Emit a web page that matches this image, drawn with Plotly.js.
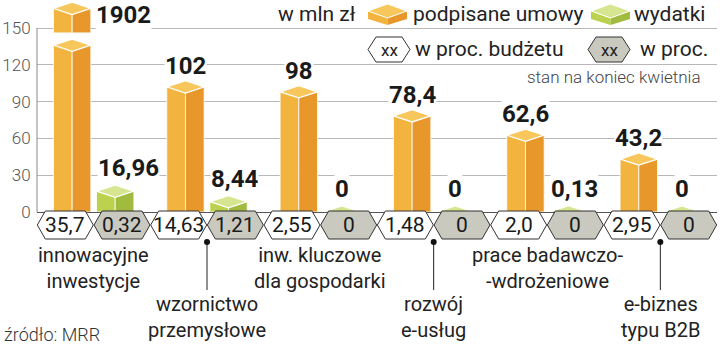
<!DOCTYPE html>
<html><head><meta charset="utf-8">
<script src="https://cdn.plot.ly/plotly-3.0.1.min.js"></script>
<style>html,body{margin:0;padding:0;background:#fff;}#chart{width:720px;height:363px;}</style>
</head><body><div id="chart"></div>
<script>
// ---- data ----
const groups = ['innowacyjne\ninwestycje', 'wzornictwo\nprzemysłowe', 'inw. kluczowe\ndla gospodarki', 'rozwój\ne-usług', 'prace badawczo-\n-wdrożeniowe', 'e-biznes\ntypu B2B'];
const contracts = [1902, 102, 98, 78.4, 62.6, 43.2];        // podpisane umowy, mln zł
const spending = [16.96, 8.44, 0, 0, 0.13, 0];             // wydatki, mln zł
const contractsPct = [35.7, 14.63, 2.55, 1.48, 2.0, 2.95]; // w proc. budżetu
const spendingPct = [0.32, 1.21, 0, 0, 0, 0];              // w proc.
const yTicks = [0, 30, 60, 90, 120, 150];

// ---- layout constants ----
const L = 37, R = 3, T = 0, B = 151, W = 720, H = 363;
const plotW = W - L - R, plotH = H - T - B;
const pxPerUnit = 184 / 150;
const yTop = plotH / pxPerUnit;
const breakAt = 136, capBase = 146, capTop = 166;   // broken bar display
const off = 0.19, half = 0.165, depth = 5;
const C = {
  oL: '#F3B43F', oR: '#E8982B', oT: '#F7C75C',
  gL: '#BCD24F', gR: '#A0BB3D', gT: '#D6E690',
  hexGray: '#C9C9BF', text: '#1a1a1a', grid: '#b8b8b8'
};
const FONT = 'Roboto, "Open Sans", sans-serif';
const px2x = p => (p - L) / plotW;
const py2y = p => (H - B - p) / plotH;
const fmtVal = v => String(v).replace('.', ',');
const fmtPct = v => v === 0 ? '0' : (Number.isInteger(v) ? v.toFixed(1) : String(v)).replace('.', ',');

const idx = groups.map((_, k) => k);
const oX = idx.map(k => k - off), gX = idx.map(k => k + off);
const oDisp = contracts.map(v => Math.min(v, breakAt));
const broken = contracts.map(v => v > capBase);

const traces = [];
function halfBars(xs, ys, bases, cL, cR) {
  traces.push({type: 'bar', x: xs.map(x => x - half / 2), y: ys, base: bases, width: half,
    marker: {color: cL, line: {color: '#fff', width: 0.8}}, hoverinfo: 'skip'});
  traces.push({type: 'bar', x: xs.map(x => x + half / 2), y: ys, base: bases, width: half,
    marker: {color: cR, line: {color: '#fff', width: 0.8}}, hoverinfo: 'skip'});
}
halfBars(oX, oDisp, oDisp.map(() => 0), C.oL, C.oR);
halfBars(gX, spending, spending.map(() => 0), C.gL, C.gR);
// upper block of broken bars
const capX = oX.filter((_, k) => broken[k]);
halfBars(capX, capX.map(() => capTop - capBase), capX.map(() => capBase), C.oL, C.oR);

function tops(xs, vs, color) {
  xs.forEach((x, i) => {
    const v = vs[i];
    traces.push({type: 'scatter', mode: 'lines', fill: 'toself', fillcolor: color,
      x: [x - half, x, x + half, x, x - half], y: [v, v + depth, v, v - depth, v],
      line: {color: '#fff', width: 1.3}, hoverinfo: 'skip'});
  });
}
tops(oX, oDisp, C.oT);
tops(gX, spending, C.gT);
tops(capX, capX.map(() => capTop), C.oT);

const shapes = [], annotations = [];
// left axis line
shapes.push({type: 'line', xref: 'paper', yref: 'y', x0: 0, x1: 0, y0: 0, y1: 150, line: {color: '#8a8a8a', width: 1}});

// hexagon row
const hw = 0.247, ins = 8 / (plotW / 6);
const hyT = py2y(211), hyB = py2y(239), hyM = (hyT + hyB) / 2;
function hexPath(cx) {
  return `M ${cx - hw},${hyM} L ${cx - hw + ins},${hyT} L ${cx + hw - ins},${hyT} L ${cx + hw},${hyM} L ${cx + hw - ins},${hyB} L ${cx - hw + ins},${hyB} Z`;
}
const hexFont = {family: FONT, size: 21, color: C.text};
idx.forEach(k => {
  shapes.push({type: 'path', xref: 'x', yref: 'paper', path: hexPath(k - 0.25), fillcolor: '#fff', line: {color: '#333', width: 1}});
  shapes.push({type: 'path', xref: 'x', yref: 'paper', path: hexPath(k + 0.25), fillcolor: C.hexGray, line: {color: '#333', width: 1}});
  annotations.push({x: k - 0.25, y: hyM, xref: 'x', yref: 'paper', text: fmtPct(contractsPct[k]), showarrow: false,
    font: hexFont, xanchor: 'center', yanchor: 'middle'});
  annotations.push({x: k + 0.25, y: hyM, xref: 'x', yref: 'paper', text: fmtPct(spendingPct[k]), showarrow: false,
    font: hexFont, xanchor: 'center', yanchor: 'middle'});
});

// category labels
idx.forEach(k => {
  const low = k % 2 === 1;
  const yc = low ? 317 : 268;
  annotations.push({x: k, y: py2y(yc), xref: 'x', yref: 'paper', text: groups[k].replace('\n', '<br>'), showarrow: false,
    font: {family: FONT, size: 20, color: '#222'}, xanchor: 'center', yanchor: 'middle', align: 'center'});
  if (low) {
    shapes.push({type: 'line', xref: 'x', yref: 'paper', x0: k, x1: k, y0: py2y(242), y1: py2y(290), line: {color: '#222', width: 1}});
    shapes.push({type: 'circle', xref: 'x', yref: 'paper', xsizemode: 'pixel', ysizemode: 'pixel', xanchor: k, yanchor: py2y(242),
      x0: -3, x1: 3, y0: -3, y1: 3, fillcolor: '#111', line: {width: 0}});
  }
});

// value labels
const vFont = {family: FONT, size: 24, color: C.text, weight: 700};
idx.forEach(k => {
  if (broken[k]) {
    annotations.push({x: oX[k] + half, y: capTop - 5.5, xref: 'x', yref: 'y', text: fmtVal(contracts[k]), showarrow: false,
      font: vFont, xanchor: 'left', yanchor: 'middle', xshift: 4, bgcolor: '#fff', borderpad: 0});
  } else {
    annotations.push({x: oX[k], y: oDisp[k], xref: 'x', yref: 'y', text: fmtVal(contracts[k]), showarrow: false,
      font: vFont, xanchor: 'center', yanchor: 'middle', yshift: 21, bgcolor: '#fff', borderpad: 0});
  }
  const g = spending[k];
  annotations.push({x: g > 0 ? gX[k] - half : gX[k], y: g, xref: 'x', yref: 'y', text: fmtVal(g), showarrow: false,
    font: vFont, xanchor: g > 0 ? 'left' : 'center', yanchor: 'middle', yshift: 23, bgcolor: '#fff', borderpad: 0});
});

// legend block
const lf = {family: FONT, size: 21, color: '#222'};
function pann(xp, yp, text, anchor, font) {
  annotations.push({x: px2x(xp), y: py2y(yp), xref: 'paper', yref: 'paper', text, showarrow: false,
    xanchor: anchor, yanchor: 'middle', font, bgcolor: '#fff', borderpad: 0});
}
pann(357, 14, 'w mln zł', 'right', lf);
pann(412, 14, 'podpisane umowy', 'left', lf);
pann(633, 14, 'wydatki', 'left', lf);
pann(414, 49, 'w proc. budżetu', 'left', lf);
pann(639, 49, 'w proc.', 'left', lf);
pann(702, 77, 'stan na koniec kwietnia', 'right', {family: FONT, size: 17, color: '#444', weight: 300});

function cube(x0, cT, cL, cR) {
  const P = pts => 'M ' + pts.map(p => px2x(p[0]) + ',' + py2y(p[1])).join(' L ') + ' Z';
  const w = 39, c = x0 + w / 2;
  shapes.push({type: 'path', xref: 'paper', yref: 'paper', path: P([[x0, 11], [c, 18], [c, 25], [x0, 19]]), fillcolor: cL, line: {width: 0}});
  shapes.push({type: 'path', xref: 'paper', yref: 'paper', path: P([[c, 18], [x0 + w, 11], [x0 + w, 19], [c, 25]]), fillcolor: cR, line: {width: 0}});
  shapes.push({type: 'path', xref: 'paper', yref: 'paper', path: P([[x0, 11], [c, 4], [x0 + w, 11], [c, 18]]), fillcolor: cT, line: {color: '#fff', width: 1}});
}
cube(368, C.oT, C.oL, C.oR);
cube(591, C.gT, C.gL, C.gR);

function hexIcon(x0, fill) {
  const P = pts => 'M ' + pts.map(p => px2x(p[0]) + ',' + py2y(p[1])).join(' L ') + ' Z';
  const w = 42, y0 = 37, y1 = 62, ym = 49.5, i = 8;
  shapes.push({type: 'path', xref: 'paper', yref: 'paper',
    path: P([[x0, ym], [x0 + i, y0], [x0 + w - i, y0], [x0 + w, ym], [x0 + w - i, y1], [x0 + i, y1]]),
    fillcolor: fill, line: {color: '#333', width: 1}});
  annotations.push({x: px2x(x0 + w / 2), y: py2y(ym + 1), xref: 'paper', yref: 'paper', text: 'xx', showarrow: false,
    xanchor: 'center', yanchor: 'middle', font: {family: FONT, size: 17, color: '#222'}});
}
hexIcon(368, '#fff');
hexIcon(588, C.hexGray);

// source
pann(3, 334, 'źródło: MRR', 'left', {family: FONT, size: 18, color: '#333', weight: 300});

const layout = {
  width: W, height: H, margin: {l: L, r: R, t: T, b: B, pad: 0},
  paper_bgcolor: '#fff', plot_bgcolor: '#fff', showlegend: false, barmode: 'overlay',
  xaxis: {range: [-0.5, groups.length - 0.5], showgrid: false, zeroline: false, showticklabels: false, showline: false, fixedrange: true},
  yaxis: {range: [0, yTop], tickvals: yTicks, ticktext: yTicks.map(String), showgrid: true, gridcolor: C.grid, gridwidth: 1,
    zeroline: true, zerolinecolor: '#555', zerolinewidth: 1, showline: false, ticks: 'outside', ticklen: 2, tickcolor: 'rgba(0,0,0,0)',
    tickfont: {family: FONT, size: 17, color: '#555', weight: 300}, fixedrange: true},
  shapes, annotations
};
Plotly.newPlot('chart', traces, layout, {staticPlot: true, displayModeBar: false});
</script></body></html>
